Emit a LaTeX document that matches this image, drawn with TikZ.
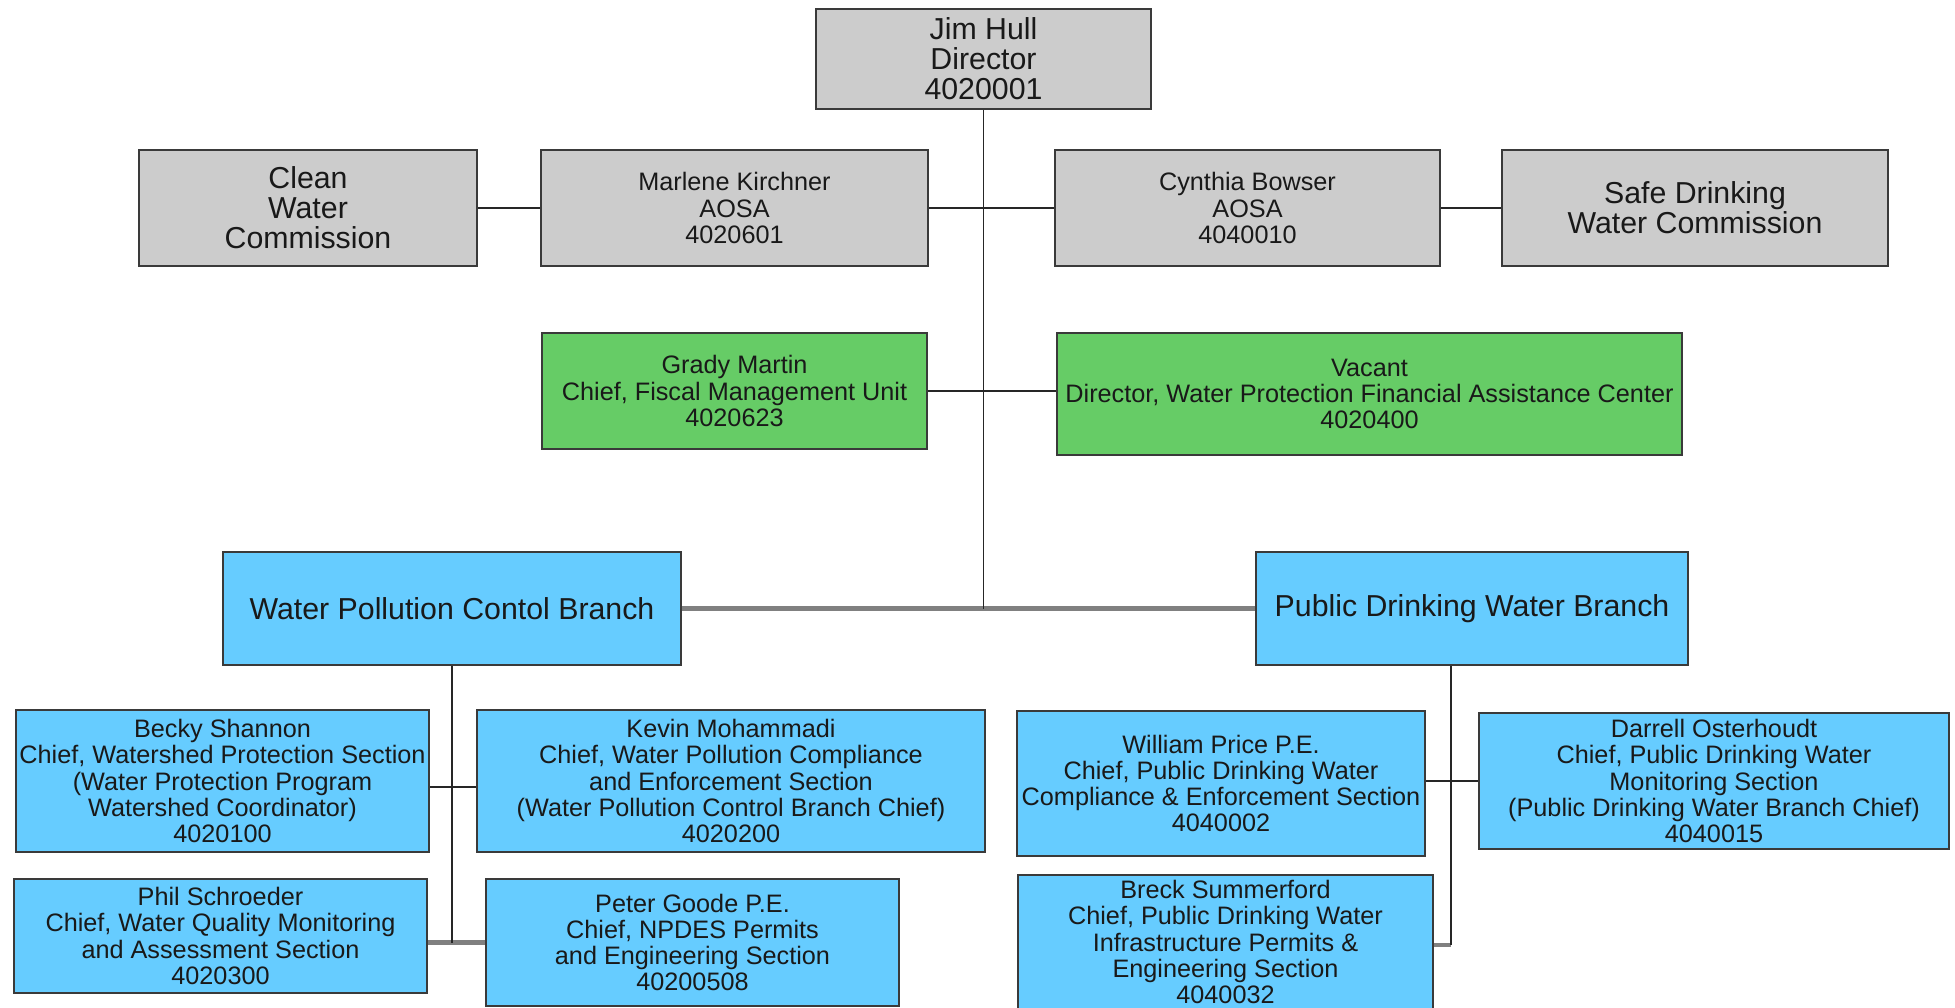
\documentclass[tikz,border=0pt]{standalone}
\usepackage{fontspec}
\setmainfont{Liberation Sans}
\definecolor{boxgray}{HTML}{CCCCCC}
\definecolor{boxgreen}{HTML}{66CC66}
\definecolor{boxblue}{HTML}{66CCFF}
\definecolor{edgecol}{HTML}{3A3A3A}
\tikzset{
  box/.style={draw=edgecol, line width=1.1pt, align=center, inner sep=0pt, text=black!90},
  bigtxt/.style={font=\fontsize{13.8}{13.7}\selectfont},
  smalltxt/.style={font=\fontsize{11.5}{11.9}\selectfont},
  sz/.style 2 args={minimum width=#1*0.016cm, minimum height=#2*0.016cm},
  gbox/.style={box, fill=boxgray},
  grbox/.style={box, fill=boxgreen},
  bbox/.style={box, fill=boxblue},
  conn/.style={line width=0.9pt, draw=black!85},
  gconn/.style={line width=2.2pt, draw=black!50},
}
\begin{document}
\begin{tikzpicture}[x=0.016cm, y=-0.016cm]
\useasboundingbox (0,0) rectangle (1955,1008);
\clip (0,0) rectangle (1955,1008);
\fill[white] (0,0) rectangle (1955,1008);

% top rows
\node[gbox, bigtxt, sz={335}{100}] (jim) at (983.5,59) {Jim Hull\\Director\\4020001};
\node[gbox, bigtxt, sz={338}{116}] (clean) at (308,208) {Clean\\Water\\Commission};
\node[gbox, smalltxt, sz={387}{116}] (marlene) at (734.5,208) {Marlene Kirchner\\AOSA\\4020601};
\node[gbox, smalltxt, sz={385}{116}] (cynthia) at (1247.5,208) {Cynthia Bowser\\AOSA\\4040010};
\node[gbox, bigtxt, sz={386}{116}] (safe) at (1695,208) {Safe Drinking\\Water Commission};

\node[grbox, smalltxt, sz={385}{116}] (grady) at (734.5,391) {Grady Martin\\Chief, Fiscal Management Unit\\4020623};
\node[grbox, smalltxt, sz={625}{122}] (vacant) at (1369.5,394) {Vacant\\Director, Water Protection Financial Assistance Center\\4020400};

% branches
\node[bbox, bigtxt, sz={458}{113}] (wpc) at (452,608.5) {Water Pollution Contol Branch};
\node[bbox, bigtxt, sz={432}{113}] (pdw) at (1472,608.5) {Public Drinking Water Branch};

% left sections
\node[bbox, smalltxt, sz={413}{142}] (becky) at (222.5,781) {Becky Shannon\\Chief, Watershed Protection Section\\(Water Protection Program\\Watershed Coordinator)\\4020100};
\node[bbox, smalltxt, sz={508}{142}] (kevin) at (731,781) {Kevin Mohammadi\\Chief, Water Pollution Compliance\\and Enforcement Section\\(Water Pollution Control Branch Chief)\\4020200};
\node[bbox, smalltxt, sz={413}{114}] (phil) at (220.5,936) {Phil Schroeder\\Chief, Water Quality Monitoring\\and Assessment Section\\4020300};
\node[bbox, smalltxt, sz={413}{127}] (peter) at (692.5,942.5) {Peter Goode P.E.\\Chief, NPDES Permits\\and Engineering Section\\40200508};

% right sections
\node[bbox, smalltxt, sz={408}{145}] (william) at (1221,783.5) {William Price P.E.\\Chief, Public Drinking Water\\Compliance \& Enforcement Section\\4040002};
\node[bbox, smalltxt, sz={470}{136}] (darrell) at (1714,781) {Darrell Osterhoudt\\Chief, Public Drinking Water\\Monitoring Section\\(Public Drinking Water Branch Chief)\\4040015};
\node[bbox, smalltxt, sz={415}{134}] (breck) at (1225.5,942) {Breck Summerford\\Chief, Public Drinking Water\\Infrastructure Permits \&\\Engineering Section\\4040032};

% coordinates
\coordinate (hub) at (jim.south |- wpc.east);
\coordinate (wpcjoin) at (453,787);
\coordinate (wpcend) at (wpc.south |- peter.west);
\coordinate (pdwtop) at (1451,0 |- pdw.south);
\coordinate (pdwjoin) at (pdwtop |- darrell.west);
\coordinate (pdwend) at (1451,945);

% connectors
\draw[conn] (clean.east) -- (marlene.west);
\draw[conn] (marlene.east) -- (cynthia.west);
\draw[conn] (cynthia.east) -- (safe.west);
\draw[conn] (grady.east) -- (grady.east -| vacant.west);
\draw[gconn] (wpc.east) -- (pdw.west);
\draw[conn] (jim.south) -- (hub);

\draw[conn] (becky.east |- wpcjoin) -- (kevin.west |- wpcjoin);
\draw[gconn] (phil.east |- peter.west) -- (peter.west);
\draw[conn] (wpc.south) -- (wpcend);

\draw[conn] (william.east |- pdwjoin) -- (darrell.west);
\draw[gconn] (pdwend) -- (breck.east |- pdwend);
\draw[conn] (pdwtop) -- (pdwend);
\end{tikzpicture}
\end{document}
